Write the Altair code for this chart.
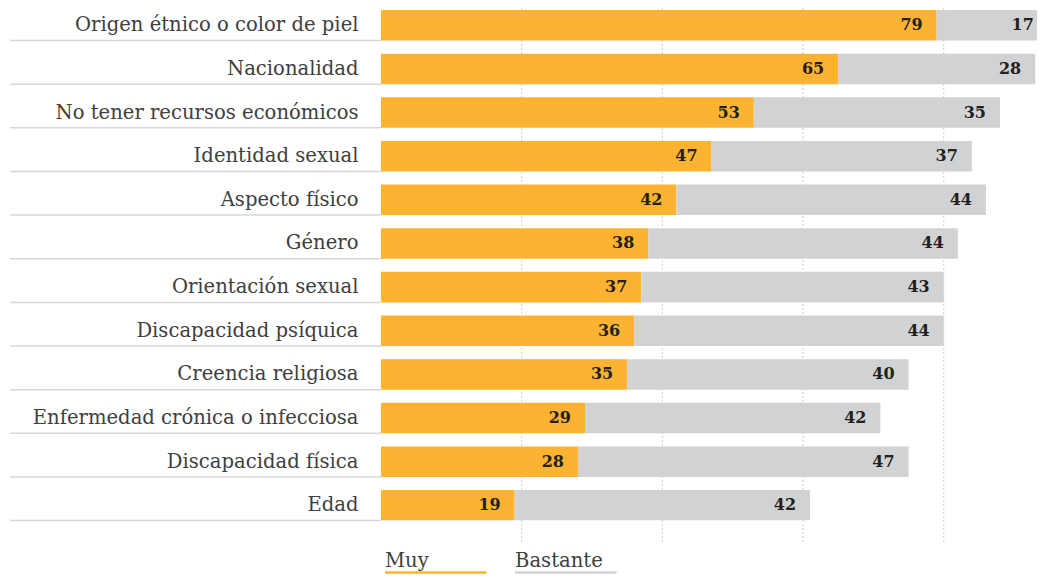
import altair as alt
import pandas as pd

categorias = [
    "Origen étnico o color de piel",
    "Nacionalidad",
    "No tener recursos económicos",
    "Identidad sexual",
    "Aspecto físico",
    "Género",
    "Orientación sexual",
    "Discapacidad psíquica",
    "Creencia religiosa",
    "Enfermedad crónica o infecciosa",
    "Discapacidad física",
    "Edad",
]
muy = [79, 65, 53, 47, 42, 38, 37, 36, 35, 29, 28, 19]
bastante = [17, 28, 35, 37, 44, 44, 43, 44, 40, 42, 47, 42]
gridlines = [20, 40, 60, 80]
legend_labels = ["Muy", "Bastante"]

ORANGE = "#FBB331"
GRAY = "#D1D2D4"
LABEL_FONT = "DejaVu Serif"
NUM_FONT = "DejaVu Serif"

df = pd.DataFrame({"cat": categorias, "muy": muy, "bastante": bastante})
df["total"] = df["muy"] + df["bastante"]
grid_df = pd.DataFrame({"v": gridlines})

XMAX = 93.26
xscale = alt.Scale(domain=[0, XMAX], nice=False, zero=True)
yscale = alt.Scale(domain=categorias, paddingInner=0.3, paddingOuter=0)
yaxis = alt.Axis(
    title=None, domain=False, ticks=False, labelPadding=23, labelFont=LABEL_FONT,
    labelFontSize=19.6, labelColor="#404040", labelLimit=0, labelAlign="right",
    labelBaseline="middle", grid=False,
)
y = alt.Y("cat:N", sort=categorias, scale=yscale, axis=yaxis)

base = alt.Chart(df)

grid = alt.Chart(grid_df).mark_rule(color="#cccccc", strokeDash=[2, 2], strokeWidth=1).encode(
    x=alt.X("v:Q", scale=xscale, axis=None), y=alt.value(-2), y2=alt.value(533)
)

underline = base.mark_rule(color="#d7d7d7", strokeWidth=1.5).encode(
    y=alt.Y("cat:N", sort=categorias, scale=yscale, axis=yaxis, bandPosition=1),
    x=alt.value(-371), x2=alt.value(0),
)

bar_muy = base.mark_bar(color=ORANGE, clip=True).encode(
    x=alt.X("muy:Q", scale=xscale, axis=None), y=y
)
bar_bast = base.mark_bar(color=GRAY, clip=True).encode(
    x=alt.X("muy:Q", scale=xscale, axis=None), x2="total:Q", y=y
)
txt_muy = base.mark_text(align="right", baseline="middle", dx=-14, font=NUM_FONT,
                         fontSize=16, fontWeight="bold", color="#231f20").encode(
    x=alt.X("muy:Q", scale=xscale, axis=None), y=y, text="muy:Q"
)
txt_bast = base.transform_calculate(labx="min(datum.total, 94.8)").mark_text(
    align="right", baseline="middle", dx=-14, font=NUM_FONT,
    fontSize=16, fontWeight="bold", color="#231f20").encode(
    x=alt.X("labx:Q", scale=xscale, axis=None), y=y, text="bastante:Q"
)

leg_df = pd.DataFrame({"label": legend_labels})
leg_layers = []
for i, (lab, col) in enumerate(zip(legend_labels, [ORANGE, GRAY])):
    x0 = 4 + i * 130
    d = alt.Chart(leg_df).transform_filter(alt.datum.label == lab)
    leg_layers.append(
        d.mark_text(align="left", baseline="alphabetic", font=LABEL_FONT, fontSize=19.6,
                    color="#404040").encode(x=alt.value(x0), y=alt.value(557), text="label:N")
    )
    leg_layers.append(
        d.mark_rule(color=col, strokeWidth=2.5).encode(
            x=alt.value(x0), x2=alt.value(x0 + 101.5), y=alt.value(562.5)
        )
    )

chart = alt.layer(grid, underline, bar_muy, bar_bast, txt_muy, txt_bast, *leg_layers).properties(
    width=656, height=510.6,
    autosize=alt.AutoSizeParams(type="none"),
    padding={"left": 373, "top": 2, "right": 0, "bottom": 53.4},
    background="white",
).configure_view(stroke=None)

chart.save("out.html", embed_options={"renderer": "svg", "actions": False})
